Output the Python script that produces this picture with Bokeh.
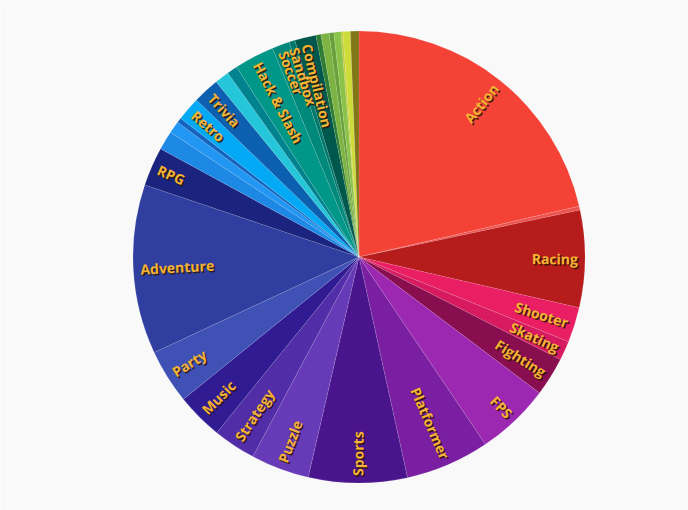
import math
from bokeh.plotting import figure
from bokeh.models import ColumnDataSource, Range1d
from bokeh.core.properties import value
from bokeh.embed import file_html
from bokeh.resources import INLINE

# slices, clockwise from 12 o'clock (unlabelled small slices have empty names)
categories = ["Action", "", "Racing", "Shooter", "Skating", "Fighting", "FPS", "Platformer",
              "Sports", "Puzzle", "Strategy", "Music", "Party", "Adventure", "RPG", "", "", "",
              "Retro", "Trivia", "", "", "Hack & Slash", "Soccer", "Sandbox", "Compilation",
              "", "", "", "", "", "", ""]
shares = [77, 1, 25, 9, 5, 10, 19, 21.6, 25.4, 15, 11, 12, 14, 43.6, 10, 4.9, 3.1, 1.3,
          6.1, 6.8, 3.7, 2.7, 10.3, 4.5, 1.5, 5.5, 1.3, 2.1, 1.2, 1.8, 0.5, 1.9, 2.2]
palette = ["#F44336", "#EF5350", "#B71C1C", "#E91E63", "#D81B60", "#880E4F", "#9C27B0",
           "#7B1FA2", "#4A148C", "#673AB7", "#512DA8", "#311B92", "#3F51B5", "#303F9F",
           "#1A237E", "#1E88E5", "#2196F3", "#1565C0", "#03A9F4", "#0D5FAF", "#26C6DA",
           "#00838F", "#009688", "#00897B", "#00796B", "#00574B", "#2E7D32", "#7CB342",
           "#689F38", "#8BC34A", "#C0CA33", "#CDDC39", "#827717"]

W, H = 688, 510
CX, CY, R = 358.5, H - 256.5, 226.0
R_LABEL = 219.0

total = float(sum(shares))
starts, ends, lx, ly, lang, lalign, ltext = [], [], [], [], [], [], []
acc = 0.0
for name, v in zip(categories, shares):
    a0 = acc / total * 360.0
    acc += v
    a1 = acc / total * 360.0
    # clockwise-from-top degrees -> math radians
    starts.append(math.radians(90.0 - a1))
    ends.append(math.radians(90.0 - a0))
    if name:
        mid = (a0 + a1) / 2.0
        rad = math.radians(mid)
        lx.append(CX + R_LABEL * math.sin(rad))
        ly.append(CY + R_LABEL * math.cos(rad))
        if mid < 180.0:
            lang.append(math.radians(90.0 - mid))
            lalign.append("right")
        else:
            lang.append(math.radians(270.0 - mid))
            lalign.append("left")
        ltext.append(name)

src = ColumnDataSource(dict(start=starts, end=ends, color=palette, name=categories))
lab = ColumnDataSource(dict(x=lx, y=ly, angle=lang, align=lalign, text=ltext))

p = figure(width=W, height=H, output_backend="svg", toolbar_location=None,
           x_range=Range1d(0, W), y_range=Range1d(0, H), min_border=0,
           x_axis_location=None, y_axis_location=None)
p.grid.visible = False
p.outline_line_color = None
p.background_fill_color = "#f9f9fa"
p.border_fill_color = "#f9f9fa"

p.wedge(x=CX, y=CY, radius=R, start_angle="start", end_angle="end",
        direction="anticlock", fill_color="color", line_color="white",
        line_alpha=0.18, line_width=0.6, source=src)

p.text(x="x", y="y", text="text", angle="angle", text_align="align",
       text_baseline="middle", x_offset=1.5, y_offset=1.5,
       text_font=value("Open Sans"), text_font_style="bold", text_font_size="14px",
       text_color="#2a1400", text_alpha=0.85, source=lab)
p.text(x="x", y="y", text="text", angle="angle", text_align="align",
       text_baseline="middle",
       text_font=value("Open Sans"), text_font_style="bold", text_font_size="14px",
       text_color="#F5B335", source=lab)

open("out.html", "w").write(file_html(p, INLINE))
